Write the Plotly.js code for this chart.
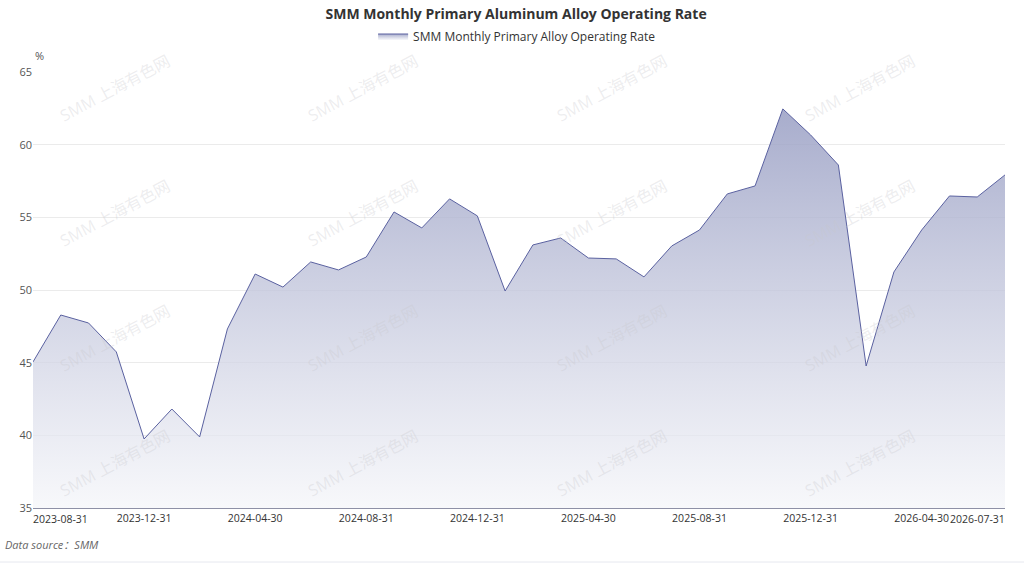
<!DOCTYPE html>
<html>
<head>
<meta charset="utf-8">
<script src="https://cdn.plot.ly/plotly-3.0.1.min.js"></script>
<style>
  html, body { margin: 0; padding: 0; background: #fff; }
  #chart { width: 1024px; height: 566px; }
</style>
</head>
<body>
<div id="chart"></div>
<script>
// month-end dates, Aug 2023 .. Jul 2026
var months = [
    "2023-08-31", "2023-09-30", "2023-10-31", "2023-11-30", "2023-12-31",
    "2024-01-31", "2024-02-29", "2024-03-31", "2024-04-30", "2024-05-31",
    "2024-06-30", "2024-07-31", "2024-08-31", "2024-09-30", "2024-10-31",
    "2024-11-30", "2024-12-31", "2025-01-31", "2025-02-28", "2025-03-31",
    "2025-04-30", "2025-05-31", "2025-06-30", "2025-07-31", "2025-08-31",
    "2025-09-30", "2025-10-31", "2025-11-30", "2025-12-31", "2026-01-31",
    "2026-02-28", "2026-03-31", "2026-04-30", "2026-05-31", "2026-06-30",
    "2026-07-31"
];

// operating rate, %
var operatingRate = [
    45.05, 48.28, 47.73, 45.74, 39.75,
    41.81, 39.89, 47.32, 51.10, 50.20,
    51.93, 51.38, 52.27, 55.37, 54.27,
    56.27, 55.10, 49.93, 53.10, 53.58,
    52.20, 52.14, 50.90, 53.03, 54.13,
    56.61, 57.16, 62.46, 60.67, 58.60,
    44.77, 51.24, 54.13, 56.47, 56.40,
    57.92
];

var tickDates = [
    "2023-08-31", "2023-12-31", "2024-04-30", "2024-08-31", "2024-12-31",
    "2025-04-30", "2025-08-31", "2025-12-31", "2026-04-30", "2026-07-31"
];

var seriesName = "SMM Monthly Primary Alloy Operating Rate";
var chartTitle = "SMM Monthly Primary Aluminum Alloy Operating Rate";

var FONT = "'Segoe UI', 'Open Sans', 'Noto Sans', 'Noto Sans CJK SC', sans-serif";
var TICK_SIZE = 10.5;

var trace = {
    x: months,
    y: operatingRate,
    name: seriesName,
    type: 'scatter',
    mode: 'lines',
    line: {color: '#5a61a0', width: 1},
    fill: 'tozeroy',
    fillgradient: {
        type: 'vertical',
        start: 35,
        stop: 63,
        colorscale: [[0, 'rgba(244,245,249,0.7)'], [1, 'rgba(150,156,194,0.85)']]
    },
    fillcolor: 'rgba(170,175,205,0.6)',
    hoverinfo: 'skip',
    showlegend: true
};

// plot box in pixels
var L = 33, R = 1005, T = 72, B = 508;
var px2x = function (p) { return (p - L) / (R - L); };
var px2y = function (p) { return (B - p) / (B - T); };

// watermark grid "SMM 上海有色网"
var annotations = [];
var wmCols = [115, 363, 612, 860];
var wmRows = [88, 213, 338, 463];
wmRows.forEach(function (py) {
    wmCols.forEach(function (px) {
        annotations.push({
            xref: 'paper', yref: 'paper',
            x: px2x(px), y: px2y(py),
            xanchor: 'center', yanchor: 'middle',
            text: 'SMM 上海有色网',
            showarrow: false,
            textangle: -28,
            font: {family: FONT, size: 16, color: 'rgba(200,200,205,0.32)'}
        });
    });
});

// unit label
annotations.push({
    xref: 'paper', yref: 'paper', x: px2x(33), y: px2y(55),
    xanchor: 'left', yanchor: 'middle',
    text: '%', showarrow: false,
    font: {family: FONT, size: 11, color: '#555'}
});

// first and last x tick labels sit inside the plot edges
annotations.push({
    xref: 'paper', yref: 'paper', x: 0, y: px2y(519),
    xanchor: 'left', yanchor: 'middle', xshift: -2,
    text: tickDates[0], showarrow: false,
    font: {family: FONT, size: TICK_SIZE, color: '#333'}
});
annotations.push({
    xref: 'paper', yref: 'paper', x: 1, y: px2y(519),
    xanchor: 'right', yanchor: 'middle', xshift: 2,
    text: tickDates[tickDates.length - 1], showarrow: false,
    font: {family: FONT, size: TICK_SIZE, color: '#333'}
});

// source note
annotations.push({
    xref: 'paper', yref: 'paper', x: px2x(3), y: px2y(544),
    xanchor: 'left', yanchor: 'middle',
    text: '<i>Data source：SMM</i>', showarrow: false,
    font: {family: FONT, size: 11, color: '#666'}
});

var tickText = tickDates.map(function (d, i) {
    return (i === 0 || i === tickDates.length - 1) ? '' : d;
});

var layout = {
    width: 1024,
    height: 566,
    margin: {l: L, r: 1024 - R, t: T, b: 566 - B, autoexpand: false},
    paper_bgcolor: '#ffffff',
    plot_bgcolor: '#ffffff',
    font: {family: FONT, color: '#333'},
    title: {
        text: '<b>' + chartTitle + '</b>',
        x: 0.504, xanchor: 'center',
        y: 1 - 14 / 566, yanchor: 'middle',
        font: {family: FONT, size: 14, color: '#333'}
    },
    showlegend: true,
    legend: {
        orientation: 'h',
        xref: 'container', yref: 'container',
        x: 0.505, xanchor: 'center',
        y: 1 - 36 / 566, yanchor: 'middle',
        font: {family: FONT, size: 12, color: '#333'}
    },
    xaxis: {
        type: 'category',
        range: [0, months.length - 1],
        tickvals: tickDates,
        ticktext: tickText,
        tickangle: 0,
        showgrid: false,
        showline: true,
        linecolor: '#8e90a6',
        linewidth: 1,
        ticks: '',
        tickfont: {family: FONT, size: TICK_SIZE, color: '#333'},
        zeroline: false,
        automargin: false,
        fixedrange: true
    },
    yaxis: {
        range: [35, 65],
        dtick: 5,
        showgrid: true,
        gridcolor: '#ebebeb',
        gridwidth: 1,
        showline: false,
        zeroline: false,
        ticks: '',
        tickfont: {family: FONT, size: 11, color: '#555'},
        automargin: false,
        fixedrange: true
    },
    annotations: annotations,
    shapes: [{
        type: 'line', xref: 'paper', yref: 'paper',
        x0: px2x(0), x1: px2x(1024),
        y0: px2y(562), y1: px2y(562),
        line: {color: '#e6e8ef', width: 1}
    }]
};

Plotly.newPlot('chart', [trace], layout, {displayModeBar: false, staticPlot: true});
</script>
</body>
</html>
